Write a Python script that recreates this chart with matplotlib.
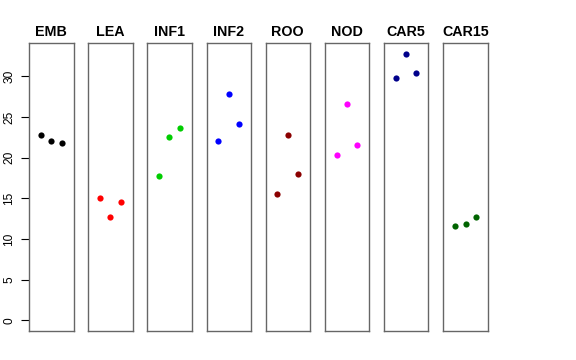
import matplotlib
matplotlib.use("Agg")
import matplotlib.pyplot as plt

categories = ["EMB", "LEA", "INF1", "INF2", "ROO", "NOD", "CAR5", "CAR15"]
colors = ["#000000", "#FF0000", "#00CD00", "#0000FF", "#8B0000", "#FF00FF", "#00008B", "#006400"]
values = {
    "EMB": [22.8, 22.1, 21.8],
    "LEA": [15.0, 12.7, 14.6],
    "INF1": [17.7, 22.5, 23.7],
    "INF2": [22.1, 27.8, 24.2],
    "ROO": [15.5, 22.8, 18.0],
    "NOD": [20.3, 26.6, 21.6],
    "CAR5": [29.75, 32.8, 30.45],
    "CAR15": [11.6, 11.8, 12.7],
}
yticks = [0, 5, 10, 15, 20, 25, 30]
reps = [1, 2, 3]

W, H = 576, 360
fig = plt.figure(figsize=(W / 100, H / 100), dpi=100)
lefts = [29, 88, 147, 206.5, 265.5, 324.7, 383.8, 443.3]
pw = 44.5
top, bottom = 43, 331
ymax = 32.8
for i, cat in enumerate(categories):
    ax = fig.add_axes([lefts[i] / W, 1 - bottom / H, pw / W, (bottom - top) / H])
    ax.scatter(reps, values[cat], s=20, color=colors[i], linewidths=0, zorder=3)
    ax.set_xlim(-0.16, 4.16)
    ax.set_ylim(-0.04 * ymax, ymax * 1.04)
    ax.set_xticks([])
    for sp in ax.spines.values():
        sp.set_color("#666666")
        sp.set_linewidth(1.0)
    ax.set_title(cat, fontsize=10.3, fontweight="bold", pad=5,
                 family="Liberation Sans")
    if i == 0:
        ax.set_yticks(yticks)
        ax.set_yticklabels([str(t) for t in yticks], rotation=90, va="center",
                           fontsize=8.6, family="Liberation Sans")
        ax.tick_params(axis="y", length=6, width=0.8, pad=4, color="black")
    else:
        ax.set_yticks([])

fig.savefig("out.png", dpi=100)
